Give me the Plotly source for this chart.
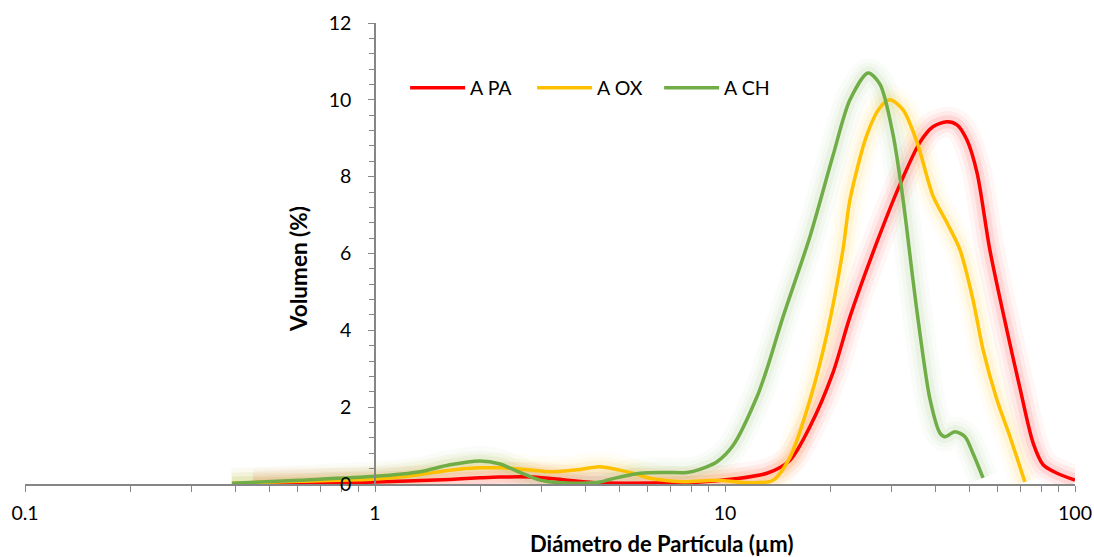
import plotly.graph_objects as go

# Diameter (µm) and volume (%)
pa_d = [0.448, 1.0, 1.637, 1.995, 2.276, 2.828, 3.54, 4.39, 6.83, 8.48, 10.54, 13.18, 15.34, 17.50,
        20.35, 22.75, 27.18, 31.62, 36.08, 39.28, 43.07, 46.01, 49.1, 52.5, 57.1, 63.9, 69.6,
        75.9, 81.1, 88.9, 100.0]
pa_v = [0.0, 0.05, 0.12, 0.16, 0.18, 0.18, 0.10, 0.03, 0.03, 0.05, 0.13, 0.28, 0.62, 1.5,
        2.9, 4.35, 6.3, 7.8, 8.9, 9.3, 9.43, 9.35, 8.96, 8.1, 6.1, 4.0, 2.5,
        1.07, 0.5, 0.28, 0.1]

ox_d = [0.39, 0.61, 1.0, 1.345, 1.637, 1.995, 2.276, 2.828, 3.162, 3.85, 4.39, 5.46, 6.11, 7.59,
        9.49, 11.79, 13.71, 15.34, 17.50, 19.55, 21.73, 22.75, 25.46, 27.73, 29.60, 32.27, 35.37,
        39.28, 43.07, 46.91, 51.1, 54.6, 59.8, 65.2, 71.9]
ox_v = [0.02, 0.07, 0.13, 0.25, 0.36, 0.42, 0.42, 0.36, 0.32, 0.38, 0.45, 0.28, 0.15, 0.06,
        0.10, 0.03, 0.10, 0.7, 2.2, 3.9, 6.1, 7.4, 9.1, 9.8, 10.0, 9.74, 8.9,
        7.5, 6.8, 6.1, 4.8, 3.5, 2.2, 1.23, 0.05]

ch_d = [0.39, 0.61, 1.0, 1.345, 1.637, 1.995, 2.276, 2.595, 2.96, 3.38, 3.85, 4.39, 4.69, 5.72,
        6.83, 7.79, 8.48, 9.49, 10.54, 12.34, 13.18, 14.65, 17.50, 20.35, 22.75, 25.63, 27.73,
        30.2, 32.27, 34.45, 36.08, 38.53, 41.11, 42.53, 45.40, 48.5, 51.1, 54.6]
ch_v = [0.02, 0.10, 0.20, 0.32, 0.50, 0.60, 0.52, 0.30, 0.10, 0.03, 0.02, 0.05, 0.12, 0.28,
        0.30, 0.30, 0.38, 0.58, 1.0, 2.27, 3.0, 4.35, 6.45, 8.55, 10.0, 10.7, 10.4,
        9.1, 7.4, 5.3, 3.9, 2.2, 1.33, 1.23, 1.36, 1.23, 0.8, 0.16]

series = [
    ("A PA", pa_d, pa_v, (255, 0, 0)),
    ("A OX", ox_d, ox_v, (255, 192, 0)),
    ("A CH", ch_d, ch_v, (112, 173, 71)),
]

x_ticks = [0.1, 1, 10, 100]
x_tick_text = ["0.1", "1", "10", "100"]
x_minor = [m * 10 ** e for e in (-1, 0, 1) for m in range(2, 10)]
y_ticks = [0, 2, 4, 6, 8, 10, 12]

FONT = "Lato"
AX = "#868686"
W, H = 1094, 557
L, R, T, B = 25, 19, 23, 73
PW, PH = W - L - R, H - T - B

fig = go.Figure()

# glow layers
for name, d, v, (r, g, b) in series:
    for w, a in [(30, 0.035), (21, 0.05), (13, 0.08)]:
        fig.add_trace(go.Scatter(
            x=d, y=v, mode="lines",
            line=dict(color=f"rgba({r},{g},{b},{a})", width=w, shape="spline", smoothing=0.8),
            showlegend=False, hoverinfo="skip"))

for name, d, v, (r, g, b) in series:
    fig.add_trace(go.Scatter(
        x=d, y=v, mode="lines", name=name,
        line=dict(color=f"rgb({r},{g},{b})", width=3.5, shape="spline", smoothing=0.8)))

fig.update_layout(
    width=W, height=H,
    paper_bgcolor="white", plot_bgcolor="white",
    margin=dict(l=L, r=R, t=T, b=B),
    font=dict(family=FONT, size=19.5, color="black"),
    showlegend=True,
    legend=dict(orientation="h", x=0.362, y=0.859, xanchor="left", yanchor="middle",
                font=dict(family=FONT, size=19.5), bgcolor="rgba(0,0,0,0)",
                itemwidth=55, entrywidth=57),
    xaxis=dict(type="log", range=[-1, 2], tickvals=x_ticks, ticktext=x_tick_text,
               automargin=False,
               showgrid=False, zeroline=False, showline=True, linecolor=AX, linewidth=1.5,
               ticks="outside", ticklen=6, tickcolor=AX, tickwidth=1.3,
               minor=dict(ticks="outside", ticklen=6, tickcolor=AX, tickwidth=1.3,
                          tickvals=x_minor, showgrid=False),
               tickfont=dict(family=FONT, size=19.5), ticklabelstandoff=5),
    yaxis=dict(range=[0, 12], tickvals=y_ticks, anchor="free", position=1/3,
               automargin=False,
               showgrid=False, zeroline=False, showline=True, linecolor=AX, linewidth=1.5,
               ticks="outside", ticklen=6, tickcolor=AX, tickwidth=1.3,
               minor=dict(ticks="outside", ticklen=5, tickcolor=AX, tickwidth=1.3, dtick=0.4,
                          showgrid=False),
               tickfont=dict(family=FONT, size=19.5), ticklabelstandoff=13),
    annotations=[
        dict(text="<b>Diámetro de Partícula (µm)</b>", xref="paper", yref="paper",
             x=(661 - L) / PW, y=(H - B - 543) / PH, xanchor="center", yanchor="middle",
             showarrow=False, font=dict(family=FONT, size=22)),
        dict(text="<b>Volumen (%)</b>", xref="paper", yref="paper",
             x=(298 - L) / PW, y=(H - B - 269) / PH, xanchor="center", yanchor="middle",
             textangle=-90, showarrow=False, font=dict(family=FONT, size=22.5)),
    ],
)

fig.write_html("out.html", config={"displayModeBar": False},
               post_script="document.body.style.margin='0px';")
